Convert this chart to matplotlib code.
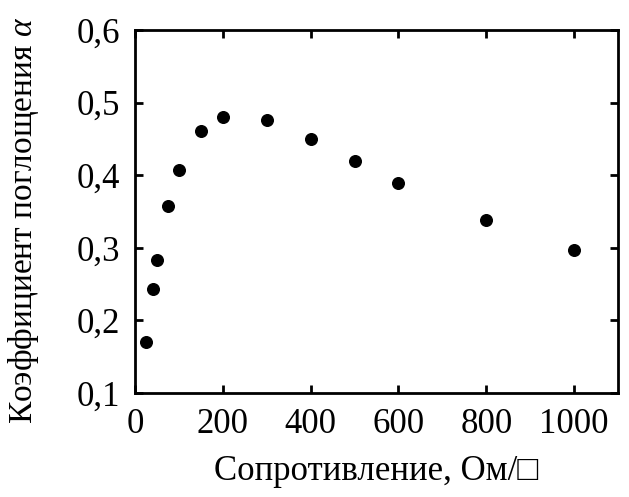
import matplotlib
matplotlib.use("Agg")
import matplotlib.pyplot as plt
from matplotlib.ticker import FuncFormatter

plt.rcParams['font.family'] = ['Liberation Serif', 'DejaVu Serif']
plt.rcParams['mathtext.fontset'] = 'custom'
plt.rcParams['mathtext.rm'] = 'Liberation Serif'
plt.rcParams['mathtext.it'] = 'Liberation Serif:italic'

# sheet resistance (Ohm/sq) and absorption coefficient
resistance = [25, 40, 50, 75, 100, 150, 200, 300, 400, 500, 600, 800, 1000]
absorption = [0.170, 0.243, 0.283, 0.358, 0.407, 0.461, 0.480, 0.476, 0.450, 0.420, 0.389, 0.338, 0.297]

x_ticks = [0, 200, 400, 600, 800, 1000]
y_ticks = [0.1, 0.2, 0.3, 0.4, 0.5, 0.6]

fig = plt.figure(figsize=(6.29, 4.97), dpi=100)
ax = fig.add_axes([0.2146, 0.2093, 0.7679, 0.7303])

ax.scatter(resistance, absorption, s=70, color='black', zorder=3)

ax.set_xlim(0, 1100)
ax.set_ylim(0.1, 0.6)
ax.set_xticks(x_ticks)
ax.set_yticks(y_ticks)
ax.yaxis.set_major_formatter(FuncFormatter(lambda v, p: f"{v:.1f}".replace('.', ',')))
ax.xaxis.set_major_formatter(FuncFormatter(lambda v, p: f"{v:.0f}"))

ax.tick_params(direction='in', length=6, width=2, labelsize=25, pad=11,
               top=True, right=True)
for sp in ax.spines.values():
    sp.set_linewidth(2)

ax.set_xlabel('Сопротивление, Ом/□', fontsize=25, labelpad=10)
ax.set_ylabel(r'Коэффициент поглощения $\mathit{\alpha}$', fontsize=24)
ax.yaxis.set_label_coords(-0.195, 0.475)

fig.savefig('out.png', dpi=100)
